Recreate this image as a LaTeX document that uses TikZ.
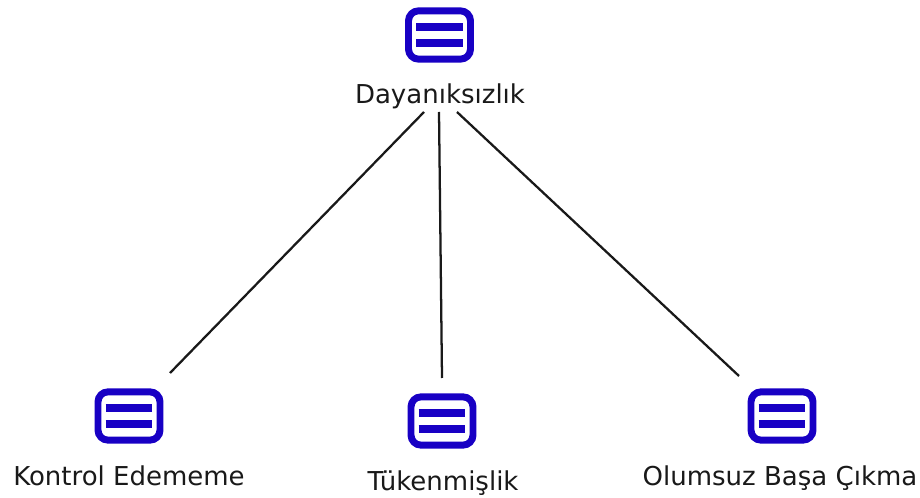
\documentclass[tikz,border=0pt]{standalone}
\usepackage{fontspec}
\setmainfont{DejaVu Sans}
\usetikzlibrary{calc}
\definecolor{iconblue}{RGB}{24,0,196}
\tikzset{
 px/.style={x=0.75pt,y=-0.75pt},
 iconbox/.style={draw=iconblue,line width=5.2pt,rounded corners=7.5pt,fill=white,minimum width=46.5pt,minimum height=36.2pt,inner sep=0pt,outer sep=0pt},
 lbl/.style={font=\fontsize{19.5pt}{22pt}\selectfont,inner sep=0pt,anchor=base,text=black!90},
 conn/.style={draw=black!90,line width=1.7pt},
 bar/.style={draw=iconblue,line width=5.6pt}
}
\newcommand{\icon}[3]{%
 \node[iconbox] (#3) at (#1,#2) {};
 \draw[bar] ($(#3.center)+(-17.5pt,6pt)$) -- ($(#3.center)+(17.5pt,6pt)$);
 \draw[bar] ($(#3.center)+(-17.5pt,-6pt)$) -- ($(#3.center)+(17.5pt,-6pt)$);
}
\begin{document}
\begin{tikzpicture}[px]
\useasboundingbox (0,0) rectangle (920,498);
\icon{439.5}{35}{top}
\icon{129}{416}{a}
\icon{442}{421}{b}
\icon{782}{416}{c}
\node[lbl] (ltop) at (440,103.5) {Dayanıksızlık};
\node[lbl] (la) at (129,485) {Kontrol Edememe};
\node[lbl] (lb) at (443,490) {Tükenmişlik};
\node[lbl] (lc) at (780,485) {Olumsuz Başa Çıkma};
\coordinate (s1) at (424,112); \coordinate (e1) at (170,373);
\coordinate (s2) at (439,112); \coordinate (e2) at (442,378);
\coordinate (s3) at (457,112); \coordinate (e3) at (739,376);
\draw[conn] (s1) -- (e1);
\draw[conn] (s2) -- (e2);
\draw[conn] (s3) -- (e3);
\end{tikzpicture}
\end{document}
